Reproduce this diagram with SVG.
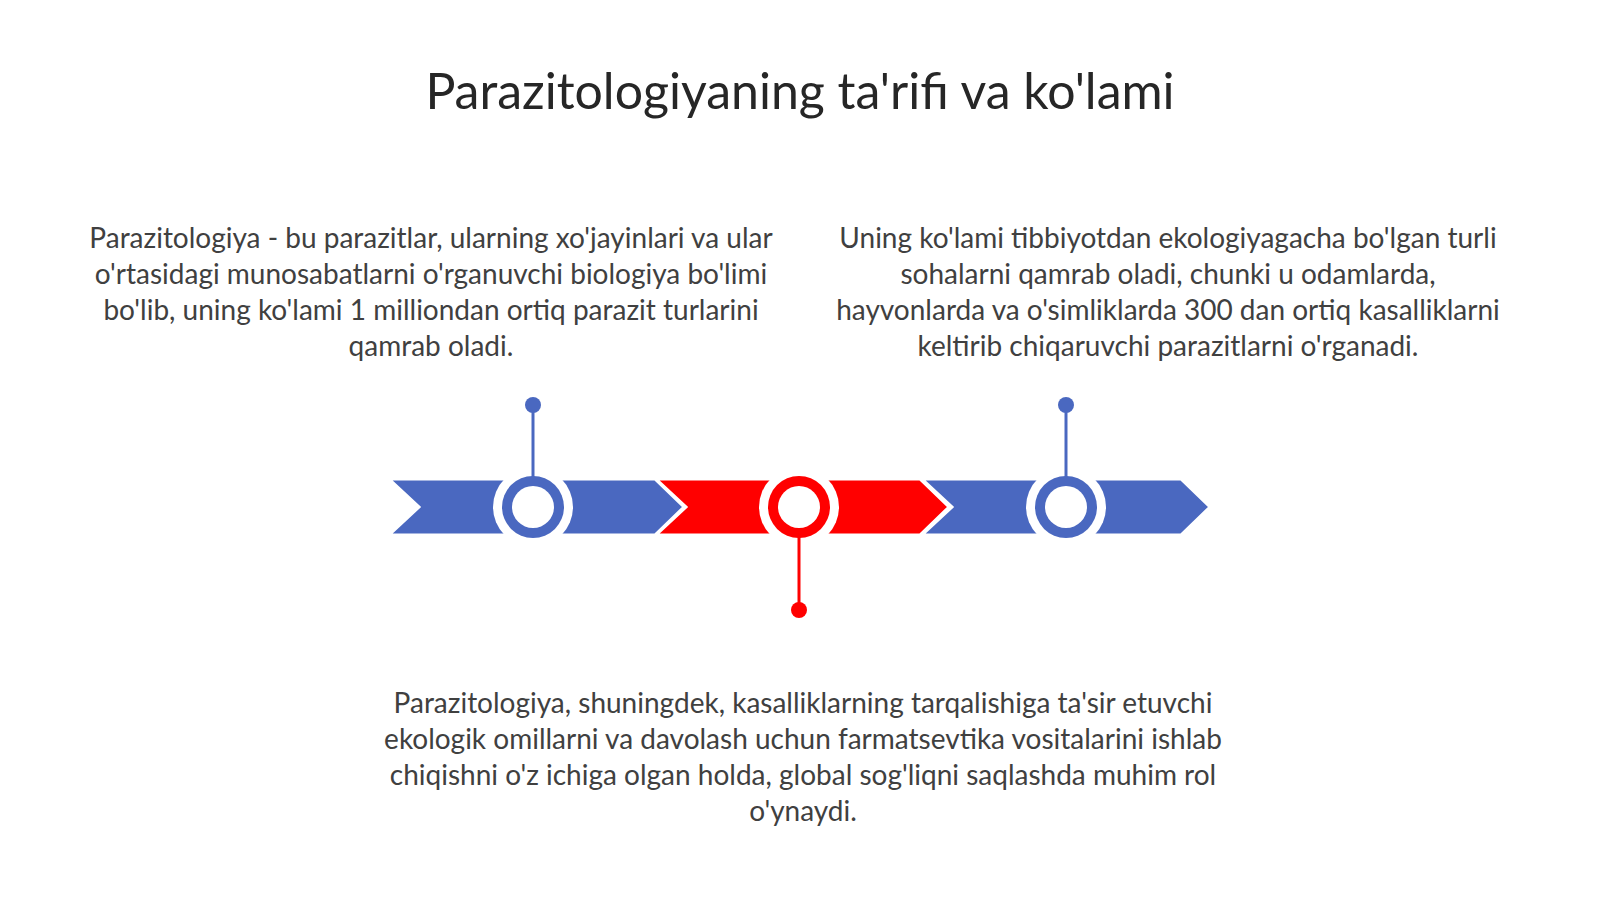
<svg xmlns="http://www.w3.org/2000/svg" width="1600" height="899" viewBox="0 0 1600 899">
  <style>
    .title { font-family: Lato, "Noto Sans", "Liberation Sans", sans-serif; font-size: 50px; fill: #262626; text-anchor: middle; }
    .body { font-family: Lato, "Noto Sans", "Liberation Sans", sans-serif; font-size: 28px; fill: #404040; text-anchor: middle; }
    .seg { stroke: #ffffff; stroke-width: 3; stroke-linejoin: miter; }
    .blue { fill: #4a68c0; }
    .red { fill: #ff0000; }
    .stemb { stroke: #4a68c0; stroke-width: 3; }
    .stemr { stroke: #ff0000; stroke-width: 3; }
  </style>
  <rect width="1600" height="899" fill="#ffffff"/>
  <g id="title">
    <text class="title" x="800" y="109">Parazitologiyaning ta'rifi va ko'lami</text>
  </g>
  <g id="segments">
    <path class="seg blue" d="M389,479 L655,479 L684,507 L655,535 L389,535 L419,507 Z"/>
    <path class="seg red" d="M656,479 L920,479 L949,507 L920,535 L656,535 L686,507 Z"/>
    <path class="seg blue" d="M922,479 L1181,479 L1210,507 L1181,535 L922,535 L952,507 Z"/>
  </g>
  <g id="node1">
    <circle cx="533" cy="507" r="40" fill="#ffffff"/>
    <circle cx="533" cy="507" r="31" class="blue"/>
    <circle cx="533" cy="507" r="21" fill="#ffffff"/>
    <circle cx="533" cy="405" r="8" class="blue"/>
    <text class="body" x="431" y="248">Parazitologiya - bu parazitlar, ularning xo'jayinlari va ular</text>
    <text class="body" x="431" y="284">o'rtasidagi munosabatlarni o'rganuvchi biologiya bo'limi</text>
    <text class="body" x="431" y="320">bo'lib, uning ko'lami 1 milliondan ortiq parazit turlarini</text>
    <text class="body" x="431" y="356">qamrab oladi.</text>
  </g>
  <g id="node2">
    <circle cx="799" cy="507" r="40" fill="#ffffff"/>
    <circle cx="799" cy="507" r="31" class="red"/>
    <circle cx="799" cy="507" r="21" fill="#ffffff"/>
    <circle cx="799" cy="610" r="8" class="red"/>
    <text class="body" x="803" y="713">Parazitologiya, shuningdek, kasalliklarning tarqalishiga ta'sir etuvchi</text>
    <text class="body" x="803" y="749">ekologik omillarni va davolash uchun farmatsevtika vositalarini ishlab</text>
    <text class="body" x="803" y="785">chiqishni o'z ichiga olgan holda, global sog'liqni saqlashda muhim rol</text>
    <text class="body" x="803" y="821">o'ynaydi.</text>
  </g>
  <g id="node3">
    <circle cx="1066" cy="507" r="40" fill="#ffffff"/>
    <circle cx="1066" cy="507" r="31" class="blue"/>
    <circle cx="1066" cy="507" r="21" fill="#ffffff"/>
    <circle cx="1066" cy="405" r="8" class="blue"/>
    <text class="body" x="1168" y="248">Uning ko'lami tibbiyotdan ekologiyagacha bo'lgan turli</text>
    <text class="body" x="1168" y="284">sohalarni qamrab oladi, chunki u odamlarda,</text>
    <text class="body" x="1168" y="320">hayvonlarda va o'simliklarda 300 dan ortiq kasalliklarni</text>
    <text class="body" x="1168" y="356">keltirib chiqaruvchi parazitlarni o'rganadi.</text>
  </g>
  <g id="connectors">
    <line class="stemb" x1="533" y1="405" x2="533" y2="478"/>
    <line class="stemr" x1="799" y1="536" x2="799" y2="610"/>
    <line class="stemb" x1="1066" y1="405" x2="1066" y2="478"/>
  </g>
</svg>
